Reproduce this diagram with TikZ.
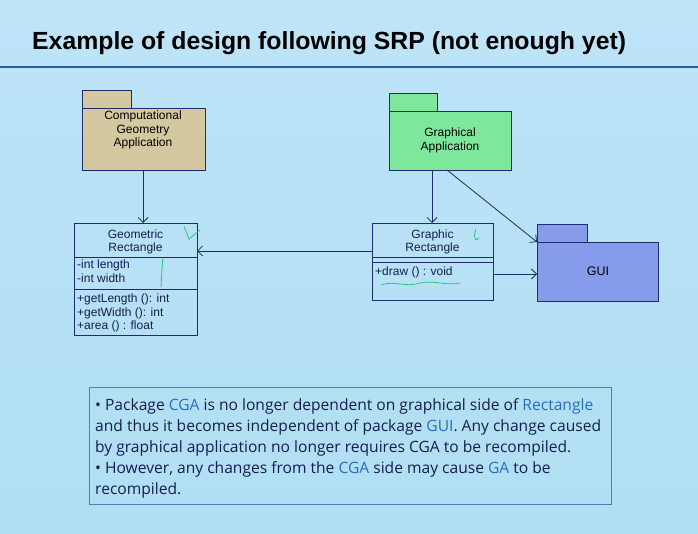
\documentclass[tikz,border=0pt]{standalone}
\usepackage{fontspec}
\setmainfont{Liberation Sans}
\newfontfamily\boxfont{Open Sans}
\usetikzlibrary{arrows.meta}
\definecolor{bg}{RGB}{176,222,242}
\definecolor{bgtop}{RGB}{190,228,248}
\definecolor{rule}{RGB}{40,90,170}
\definecolor{tan}{RGB}{212,200,160}
\definecolor{grn}{RGB}{125,232,155}
\definecolor{guiblue}{RGB}{135,155,235}
\definecolor{edge}{RGB}{30,45,110}
\definecolor{hl}{RGB}{40,110,190}
\definecolor{txt}{RGB}{20,30,80}
\definecolor{pen}{RGB}{40,200,130}
\tikzset{
  pkg/.style={draw=edge, line width=0.8pt},
  cls/.style={draw=edge, line width=0.8pt},
  dep/.style={draw=edge, line width=0.8pt, -{Straight Barb[length=5pt,width=10pt]}},
  pkgtext/.style={font=\fontsize{12}{13.5}\selectfont, align=center, text=black, inner sep=0pt, anchor=base},
  clstext/.style={font=\fontsize{12}{13.5}\selectfont, align=left, text=txt, inner sep=0pt},
  note/.style={line width=0.8pt, draw=pen, line cap=round}
}
\newcommand{\hlw}[1]{\textcolor{hl}{#1}}
\begin{document}
\begin{tikzpicture}[x=1pt,y=-1pt]
\useasboundingbox (0,0) rectangle (698,534);
\shade[top color=bgtop, bottom color=bg] (0,0) rectangle (698,534);
% title
\node[anchor=base west, inner sep=0pt, font=\bfseries\fontsize{24.8}{26}\selectfont] (title) at (32,50) {Example of design following SRP (not enough yet)};
\draw[rule, line width=1.2pt] (0,67) -- (698,67);

% CGA package
\fill[tan] (82,90) rectangle (131,108);
\draw[pkg] (82,108) -- (82,90) -- (131,90) -- (131,108);
\node[pkg, fill=tan, minimum width=123pt, minimum height=62pt, anchor=north west, inner sep=0pt] (cga) at (82,108) {};
\node[pkgtext] (cgat) at (143,147) {Computational\\Geometry\\Application};

% GA package
\fill[grn] (389,93) rectangle (437,111);
\draw[pkg] (389,111) -- (389,93) -- (437,93) -- (437,111);
\node[pkg, fill=grn, minimum width=122pt, minimum height=59pt, anchor=north west, inner sep=0pt] (ga) at (389,111) {};
\node[pkgtext, font=\fontsize{12}{14}\selectfont] (gat) at (450,151) {Graphical\\Application};

% GUI package
\fill[guiblue] (537,224) rectangle (587,242);
\draw[pkg] (537,242) -- (537,224) -- (587,224) -- (587,242);
\node[pkg, fill=guiblue, minimum width=121pt, minimum height=59pt, anchor=north west, inner sep=0pt] (gui) at (537,242) {};
\node[pkgtext, font=\fontsize{12.5}{14}\selectfont] (guit) at (598,276) {GUI};

% Geometric Rectangle class
\node[cls, minimum width=123pt, minimum height=112pt, anchor=north west, inner sep=0pt] (geo) at (74,223) {};
\draw[cls] (74,257) -- (197,257);
\draw[cls] (74,289) -- (197,289);
\node[clstext, align=center, anchor=base] (geon) at (135.5,252) {Geometric\\Rectangle};
\node[clstext, anchor=base west, font=\fontsize{12}{14.5}\selectfont] (geoa) at (77,283) {-int length\\-int width};
\node[clstext, anchor=base west] (geom) at (77,330) {+getLength (): int\\+getWidth (): int\\+area () : float};

% Graphic Rectangle class
\node[cls, minimum width=121pt, minimum height=77pt, anchor=north west, inner sep=0pt] (gr) at (372,223) {};
\draw[cls] (372,257) -- (493,257);
\draw[cls] (372,262) -- (493,262);
\node[clstext, align=center, anchor=base] (grn) at (432.5,252) {Graphic\\Rectangle};
\node[clstext, anchor=base west] (grm) at (375,276) {+draw () : void};

% dependencies
\coordinate (cgab) at (143,170);
\coordinate (geot) at (143,223);
\draw[dep] (cgab) -- (geot);
\coordinate (gab) at (432,170);
\coordinate (grt) at (432,223);
\draw[dep] (gab) -- (grt);
\coordinate (gab2) at (447,170);
\coordinate (guic) at (537,242);
\draw[dep] (gab2) -- (guic);
\coordinate (grl) at (372,251);
\coordinate (geor) at (197,251);
\draw[dep] (grl) -- (geor);
\coordinate (grr) at (493,274);
\coordinate (guil) at (537,274);
\draw[dep] (grr) -- (guil);

% handwritten marks
\draw[note] (184,226) .. controls (186,232) .. (189,239) -- (200,230);
\draw[note] (163,258) .. controls (162,268) .. (161,287);
\draw[note] (476,229) .. controls (474,236) .. (476,240) -- (479,238);
\draw[note] (381,285) .. controls (395,280) and (405,288) .. (420,283) .. controls (435,280) and (445,286) .. (460,283);

% text box
\node[draw=rule!80, line width=0.6pt, minimum width=522pt, minimum height=117pt, anchor=north west, inner sep=0pt] (box) at (89,387) {};
\node[anchor=base west, inner sep=0pt, align=left, text=txt, font=\boxfont\fontsize{15.6}{21}\selectfont] (boxt) at (95,494) {%
\textbullet\ Package \hlw{CGA} is no longer dependent on graphical side of \hlw{Rectangle}\\
and thus it becomes independent of package \hlw{GUI}. Any change caused\\
by graphical application no longer requires CGA to be recompiled.\\
\textbullet\ However, any changes from the \hlw{CGA} side may cause \hlw{GA} to be\\
recompiled.};
\end{tikzpicture}
\end{document}
